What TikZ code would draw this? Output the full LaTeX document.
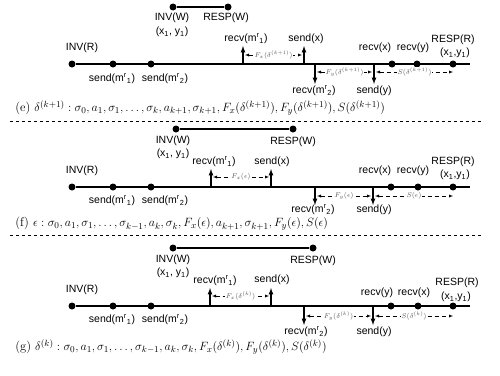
\documentclass[tikz,border=0pt]{standalone}
\usepackage{amsmath,amssymb}
\usepackage{fontspec}
\usetikzlibrary{arrows}
\newfontfamily\lbl{Liberation Sans}
\newcommand{\mr}[1]{m\textsuperscript{r}\textsubscript{#1}}
\newcommand{\xya}{(x\textsubscript{1}, y\textsubscript{1})}
\newcommand{\xyb}{(x\textsubscript{1},y\textsubscript{1})}
\newcommand{\dk}{\delta^{(k)}}
\newcommand{\dkk}{\delta^{(k+1)}}

\begin{document}
\begin{tikzpicture}[x=1pt, y=-1pt, >=latex, semithick,
  dot/.style={circle, fill, inner sep=0pt, minimum size=7pt},
  tline/.style={line width=2.2pt},
  ev/.style={->, line width=1.2pt},
  gap/.style={<->, dash pattern=on 4pt off 3pt, thin},
  gl/.style={fill=white, inner sep=0.8pt, text=black!65, font=\fontsize{7}{7}\selectfont},
  lab/.style={font=\lbl\fontsize{10.5}{11}\selectfont, inner sep=0pt},
  captxt/.style={anchor=west, inner sep=0pt, font=\fontsize{12.6}{14}\selectfont}]
\useasboundingbox (0,0) rectangle (500,375);
%
% (e)
%
\node (eW1) [dot] at (173,7) {};
\node (eW2) [dot] at (228,7) {};
\draw [tline] (eW1) -- (eW2);
\node (eIW) [lab] at (172,18) {INV(W)};
\node (eXW) [lab] at (172,32) {\xya};
\node (eRW) [lab] at (226,18) {RESP(W)};
%
\node (eR0) [dot] at (72,64) {};
\node (eS1) [dot] at (113,64) {};
\node (eS2) [dot] at (151,64) {};
\node (eRx) [dot] at (392,64) {};
\node (eRy) [dot] at (417,64) {};
\node (eRR) [dot] at (453,64) {};
\coordinate (eEnd) at (470,64);
\draw [tline] (eR0) -- (eEnd);
%
\node (eIR) [lab] at (82,48) {INV(R)};
\node (eL1) [lab] at (112,79) {send(\mr{1})};
\node (eL2) [lab] at (165,79) {send(\mr{2})};
\node (eLx) [lab] at (375,48) {recv(x)};
\node (eLy) [lab] at (413,48) {recv(y)};
\node (eLR) [lab] at (453,40) {RESP(R)};
\node (eXR) [lab] at (455,53) {\xyb};
%
\coordinate (eA1) at (243,64); \coordinate (eA1t) at (243,46);
\coordinate (eA2) at (304,64); \coordinate (eA2t) at (304,46);
\coordinate (eB1) at (315,64); \coordinate (eB1t) at (315,84);
\coordinate (eB2) at (374,64); \coordinate (eB2t) at (374,84);
\path [ev] (eA1) edge (eA1t)
           (eA2) edge (eA2t)
           (eB1) edge (eB1t)
           (eB2) edge (eB2t);
\node (eM1) [lab] at (246,39) {recv(\mr{1})};
\node (eSx) [lab] at (306,39) {send(x)};
\node (eM2) [lab] at (314,91) {recv(\mr{2})};
\node (eSy) [lab] at (374,91) {send(y)};
%
\coordinate (eF1) at (245,55); \coordinate (eF2) at (302,55);
\coordinate (eG1) at (317,72); \coordinate (eG2) at (372,72);
\coordinate (eH1) at (376,72); \coordinate (eH2) at (453,72);
\path [gap] (eF1) edge node [gl] {$F_x(\dkk)$} (eF2)
            (eG1) edge node [gl] {$F_y(\dkk)$} (eG2)
            (eH1) edge node [gl] {$S(\dkk)$} (eH2);
%
\node (eCap) [captxt] at (15,108) {(e) $\dkk: \sigma_0, a_1, \sigma_1, \ldots, \sigma_k, a_{k+1}, \sigma_{k+1}, F_x(\dkk), F_y(\dkk), S(\dkk)$};
\coordinate (s1a) at (10,121); \coordinate (s1b) at (482,121);
\draw [dashed, thin] (s1a) -- (s1b);
%
% (f)
%
\node (fW1) [dot] at (176,129) {};
\node (fW2) [dot] at (293,129) {};
\draw [tline] (fW1) -- (fW2);
\node (fIW) [lab] at (173,141) {INV(W)};
\node (fXW) [lab] at (173,154) {\xya};
\node (fRW) [lab] at (293,142) {RESP(W)};
%
\node (fR0) [dot] at (72,187) {};
\node (fS1) [dot] at (113,187) {};
\node (fS2) [dot] at (151,187) {};
\node (fRx) [dot] at (391,187) {};
\node (fRy) [dot] at (418,187) {};
\node (fRR) [dot] at (453,187) {};
\coordinate (fEnd) at (470,187);
\draw [tline] (fR0) -- (fEnd);
%
\node (fIR) [lab] at (82,171) {INV(R)};
\node (fL1) [lab] at (112,201) {send(\mr{1})};
\node (fL2) [lab] at (165,201) {send(\mr{2})};
\node (fLx) [lab] at (375,171) {recv(x)};
\node (fLy) [lab] at (413,171) {recv(y)};
\node (fLR) [lab] at (453,162) {RESP(R)};
\node (fXR) [lab] at (455,175) {\xyb};
%
\coordinate (fA1) at (211,187); \coordinate (fA1t) at (211,169);
\coordinate (fA2) at (271,187); \coordinate (fA2t) at (271,169);
\coordinate (fB1) at (315,187); \coordinate (fB1t) at (315,205);
\coordinate (fB2) at (373,187); \coordinate (fB2t) at (373,205);
\path [ev] (fA1) edge (fA1t)
           (fA2) edge (fA2t)
           (fB1) edge (fB1t)
           (fB2) edge (fB2t);
\node (fM1) [lab] at (214,162) {recv(\mr{1})};
\node (fSx) [lab] at (272,162) {send(x)};
\node (fM2) [lab] at (313,210) {recv(\mr{2})};
\node (fSy) [lab] at (374,210) {send(y)};
%
\coordinate (fF1) at (213,177); \coordinate (fF2) at (269,177);
\coordinate (fG1) at (317,196); \coordinate (fG2) at (371,196);
\coordinate (fH1) at (375,196); \coordinate (fH2) at (453,196);
\path [gap] (fF1) edge node [gl] {$F_x(\epsilon)$} (fF2)
            (fG1) edge node [gl] {$F_y(\epsilon)$} (fG2)
            (fH1) edge node [gl] {$S(\epsilon)$} (fH2);
%
\node (fCap) [captxt] at (15,224) {(f) $\epsilon: \sigma_0, a_1, \sigma_1, \ldots, \sigma_{k-1}, a_k, \sigma_k, F_x(\epsilon), a_{k+1}, \sigma_{k+1}, F_y(\epsilon), S(\epsilon)$};
\coordinate (s2a) at (10,235); \coordinate (s2b) at (482,235);
\draw [dashed, thin] (s2a) -- (s2b);
%
% (g)
%
\node (gW1) [dot] at (173,248) {};
\node (gW2) [dot] at (313,248) {};
\draw [tline] (gW1) -- (gW2);
\node (gIW) [lab] at (173,260) {INV(W)};
\node (gXW) [lab] at (173,273) {\xya};
\node (gRW) [lab] at (313,261) {RESP(W)};
%
\node (gR0) [dot] at (72,306) {};
\node (gS1) [dot] at (113,306) {};
\node (gS2) [dot] at (151,306) {};
\node (gRy) [dot] at (391,306) {};
\node (gRx) [dot] at (418,306) {};
\node (gRR) [dot] at (453,306) {};
\coordinate (gEnd) at (470,306);
\draw [tline] (gR0) -- (gEnd);
%
\node (gIR) [lab] at (82,290) {INV(R)};
\node (gL1) [lab] at (112,320) {send(\mr{1})};
\node (gL2) [lab] at (165,320) {send(\mr{2})};
\node (gLy) [lab] at (377,293) {recv(y)};
\node (gLx) [lab] at (414,293) {recv(x)};
\node (gLR) [lab] at (457,283) {RESP(R)};
\node (gXR) [lab] at (456,297) {\xyb};
%
\coordinate (gA1) at (210,306); \coordinate (gA1t) at (210,288);
\coordinate (gA2) at (271,306); \coordinate (gA2t) at (271,288);
\coordinate (gB1) at (304,306); \coordinate (gB1t) at (304,325);
\coordinate (gB2) at (373,306); \coordinate (gB2t) at (373,325);
\path [ev] (gA1) edge (gA1t)
           (gA2) edge (gA2t)
           (gB1) edge (gB1t)
           (gB2) edge (gB2t);
\node (gM1) [lab] at (215,281) {recv(\mr{1})};
\node (gSx) [lab] at (272,280) {send(x)};
\node (gM2) [lab] at (306,332) {recv(\mr{2})};
\node (gSy) [lab] at (374,332) {send(y)};
%
\coordinate (gF1) at (212,296); \coordinate (gF2) at (269,296);
\coordinate (gG1) at (306,316); \coordinate (gG2) at (371,316);
\coordinate (gH1) at (375,316); \coordinate (gH2) at (453,316);
\path [gap] (gF1) edge node [gl] {$F_x(\dk)$} (gF2)
            (gG1) edge node [gl] {$F_y(\dk)$} (gG2)
            (gH1) edge node [gl] {$S(\dk)$} (gH2);
%
\node (gCap) [captxt] at (15,347) {(g) $\dk: \sigma_0, a_1, \sigma_1, \ldots, \sigma_{k-1}, a_k, \sigma_k, F_x(\dk), F_y(\dk), S(\dk)$};
\end{tikzpicture}
\end{document}
